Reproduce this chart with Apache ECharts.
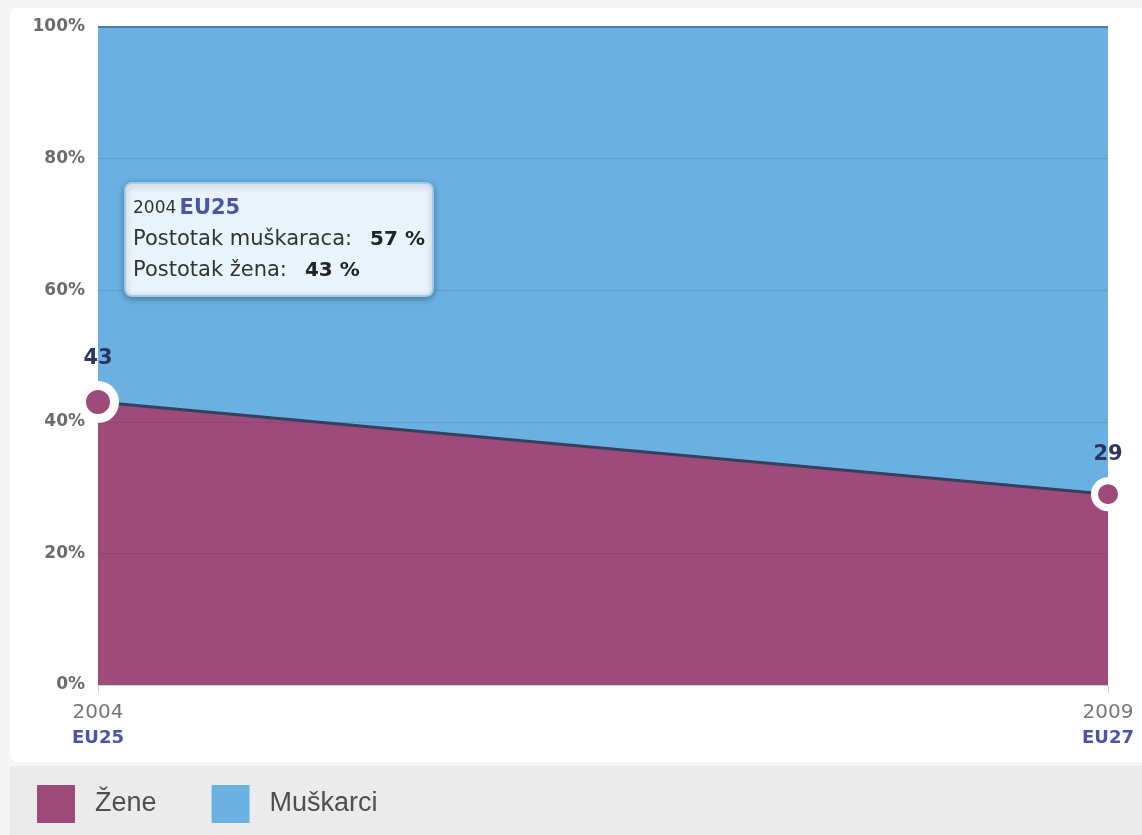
<!DOCTYPE html>
<html>
<head>
<meta charset="utf-8">
<script src="https://cdn.jsdelivr.net/npm/echarts@6/dist/echarts.min.js"></script>
<style>
html,body{margin:0;padding:0;background:#f5f5f5;}
#c{width:1142px;height:835px;}
</style>
</head>
<body>
<div id="c"></div>
<script>
const years = ['2004', '2009'];
const regions = ['EU25', 'EU27'];
const women = [43, 29];
const men = [57, 71];
const yTicks = [0, 20, 40, 60, 80, 100];
const seriesNames = ['Žene', 'Muškarci'];
const tipLabels = ['Postotak muškaraca:', 'Postotak žena:'];

const chart = echarts.init(document.getElementById('c'), null, {renderer: 'canvas'});

const purple = '#9e4a7b';
const blue = '#6ab1e1';

const tipText = '{a|' + years[0] + '} {b|' + regions[0] + '}\n' +
  '{c|' + tipLabels[0] + '}{d|' + men[0] + ' %}\n' +
  '{c|' + tipLabels[1] + '}{d|' + women[0] + ' %}';

const option = {
  backgroundColor: 'transparent',
  animation: false,
  grid: {left: 98, right: 34, top: 27, bottom: 150},
  xAxis: {
    type: 'category',
    boundaryGap: false,
    data: years.map((y, i) => y + '\n' + regions[i]),
    axisLine: {show: true, lineStyle: {color: '#c5d3e2', width: 1}},
    axisTick: {show: true, length: 8, lineStyle: {color: '#c5d3e2'}},
    axisLabel: {
      margin: 14,
      formatter: function (v) {
        const p = v.split('\n');
        return '{y|' + p[0] + '}\n{r|' + p[1] + '}';
      },
      rich: {
        y: {fontFamily: 'DejaVu Sans', fontSize: 20, color: '#777', lineHeight: 27},
        r: {fontFamily: 'DejaVu Sans', fontSize: 18, fontWeight: 'bold', color: '#4a55a8', lineHeight: 24}
      }
    },
    splitLine: {show: false}
  },
  yAxis: {
    type: 'value',
    min: yTicks[0],
    max: yTicks[yTicks.length - 1],
    interval: yTicks[1] - yTicks[0],
    axisLine: {show: false},
    axisTick: {show: false},
    splitLine: {show: false},
    axisLabel: {
      margin: 13,
      formatter: '{value}%',
      fontFamily: 'DejaVu Sans',
      fontSize: 17,
      fontWeight: 'bold',
      color: '#6b6b6b'
    }
  },
  legend: {
    left: 32,
    top: 780,
    itemWidth: 38,
    itemHeight: 38,
    itemGap: 55,
    icon: 'rect',
    selectedMode: false,
    data: seriesNames,
    textStyle: {fontFamily: 'Liberation Sans', fontSize: 27, color: '#4f4f4f', padding: [0, 0, 0, 15]}
  },
  graphic: [
    {type: 'rect', z: -10, silent: true, shape: {x: 10, y: 8, width: 1140, height: 754, r: 8}, style: {fill: '#ffffff'}},
    {type: 'rect', z: -10, silent: true, shape: {x: 10, y: 766, width: 1140, height: 72}, style: {fill: '#ebebeb'}},
    {type: 'rect', z: 100, silent: true, shape: {x: 125, y: 183, width: 308, height: 113, r: 7},
      style: {fill: '#e9f3fb', stroke: '#9dcbec', lineWidth: 2, shadowBlur: 6, shadowColor: 'rgba(0,0,0,0.3)', shadowOffsetY: 2}},
    {type: 'text', z: 101, silent: true, x: 133, y: 193,
      style: {
        text: tipText,
        rich: {
          a: {fontFamily: 'DejaVu Sans', fontSize: 17, fill: '#333', lineHeight: 31},
          b: {fontFamily: 'DejaVu Sans', fontSize: 21, fontWeight: 'bold', fill: '#4a55a8', lineHeight: 31},
          c: {fontFamily: 'DejaVu Sans', fontSize: 21, fill: '#333', lineHeight: 31},
          d: {fontFamily: 'DejaVu Sans', fontSize: 20, fontWeight: 'bold', fill: '#222', lineHeight: 31, padding: [0, 0, 0, 18]}
        }
      }}
  ],
  series: [
    {
      name: seriesNames[0],
      type: 'line',
      stack: 'total',
      color: purple,
      data: women.map((v, i) => ({
        value: v,
        symbolSize: i === 0 ? 33 : 27,
        itemStyle: {color: purple, borderColor: '#ffffff', borderWidth: i === 0 ? 9 : 7}
      })),
      symbol: 'circle',
      showSymbol: true,
      lineStyle: {color: '#33405f', width: 3},
      areaStyle: {color: purple, opacity: 1},
      label: {
        show: true, position: 'top', distance: 12,
        fontFamily: 'DejaVu Sans', fontSize: 21, fontWeight: 'bold', color: '#2a3560'
      },
      z: 3
    },
    {
      name: seriesNames[1],
      type: 'line',
      stack: 'total',
      color: blue,
      data: men,
      symbol: 'none',
      lineStyle: {color: '#4d7cab', width: 2},
      areaStyle: {color: blue, opacity: 1},
      markLine: {
        silent: true, symbol: 'none', label: {show: false},
        lineStyle: {color: 'rgba(30,50,90,0.14)', type: 'solid', width: 1},
        data: yTicks.slice(1, -1).map(v => ({yAxis: v}))
      },
      z: 2
    }
  ]
};
chart.setOption(option);
</script>
</body>
</html>
